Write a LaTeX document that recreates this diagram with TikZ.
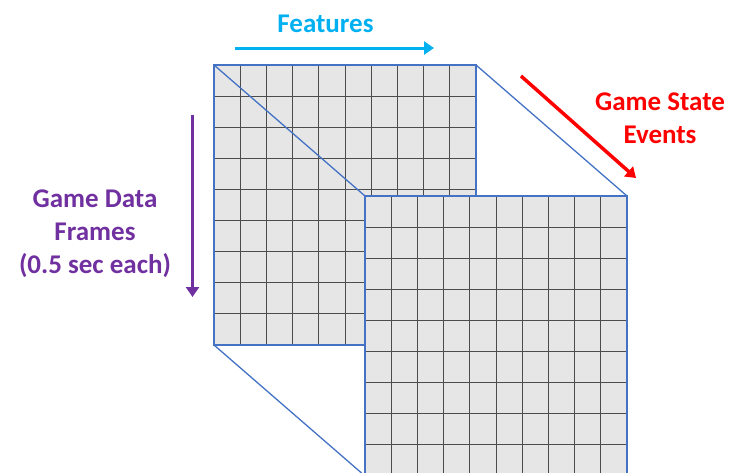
\documentclass[tikz,border=0pt]{standalone}
\usepackage{fontspec}
\setmainfont{Carlito}
\usepackage{tikz}
\usetikzlibrary{arrows.meta,positioning,calc}
\usepackage{xcolor}
\definecolor{featcyan}{HTML}{00B0F0}
\definecolor{framepurple}{HTML}{7030A0}
\definecolor{edgeblue}{HTML}{4472C4}
\definecolor{cellgray}{HTML}{E6E6E6}

\begin{document}
\begin{tikzpicture}[x=1pt,y=-1pt,
    gridline/.style={black!70, line width=0.7pt},
    edge/.style={edgeblue, line width=1.3pt},
    label/.style={font=\fontsize{27}{33}\selectfont\bfseries, align=center, anchor=base},
    bigarrow/.style={line width=3pt, -{Triangle[length=10pt,width=13pt]}}]
    \clip (0,0) rectangle (730,472);

    % 后面的网格
    \coordinate (B1) at (214,65);
    \coordinate (B2) at (476,65);
    \coordinate (B3) at (476,345);
    \coordinate (B4) at (214,345);
    \fill[cellgray] (B1) rectangle (B3);
    \foreach \i in {1,...,9}
        \draw[gridline] ({214+\i*26.2},65) -- ({214+\i*26.2},345);
    \foreach \j in {1,...,8}
        \draw[gridline] (214,{65+\j*31.1}) -- (476,{65+\j*31.1});
    \draw[edge] (B1) -- (B2) -- (B3) -- (B4) -- cycle;

    % 斜边
    \coordinate (F1) at (365,196);
    \coordinate (F2) at (627,196);
    \coordinate (F3) at (627,476);
    \coordinate (F4) at (365,476);
    \draw[edge] (B1) -- (F1);
    \draw[edge] (B2) -- (F2);
    \draw[edge] (B4) -- (F4);

    % 前面的网格
    \fill[cellgray] (F1) rectangle (F3);
    \foreach \i in {1,...,9}
        \draw[gridline] ({365+\i*26.2},196) -- ({365+\i*26.2},476);
    \foreach \j in {1,...,8}
        \draw[gridline] (365,{196+\j*31.1}) -- (627,{196+\j*31.1});
    \draw[edge] (F1) -- (F2) -- (F3) -- (F4) -- cycle;

    % 箭头
    \coordinate (featS) at (235,48);
    \coordinate (featE) at (434,48);
    \draw[bigarrow, featcyan] (featS) -- (featE);
    \coordinate (evS) at (521,76);
    \coordinate (evE) at (636,178);
    \draw[bigarrow, red, line width=3.5pt] (evS) -- (evE);
    \coordinate (frS) at (192.5,115);
    \coordinate (frE) at (192.5,297);
    \draw[bigarrow, framepurple] (frS) -- (frE);

    % 文字 (基线在最后一行)
    \node[label, featcyan] (feat) at (325.5,32) {Features};
    \node[label, red] (events) at (660,143) {Game State\\Events};
    \node[label, framepurple] (frames) at (95,273) {Game Data\\Frames\\(0.5 sec each)};
\end{tikzpicture}
\end{document}
